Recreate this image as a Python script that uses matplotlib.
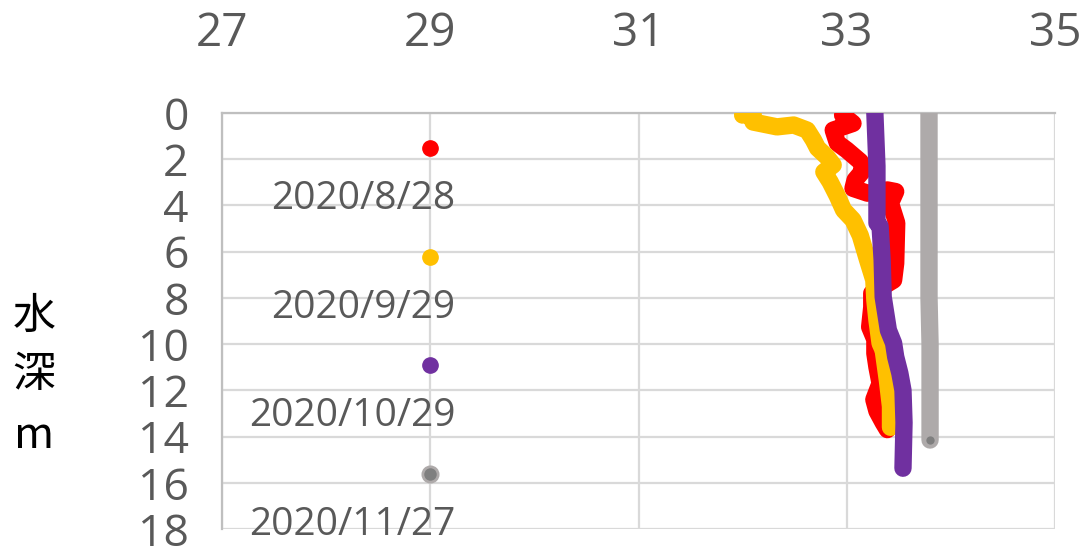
import matplotlib
matplotlib.use("Agg")
import numpy as np
import matplotlib.pyplot as plt

# salinity (x) vs depth (y)
red_sal = [32.96, 33.06, 32.87, 32.91, 33.00, 33.13, 33.16, 33.08, 33.06, 33.20, 33.39, 33.47,
           33.42, 33.48, 33.47, 33.45, 33.24, 33.24, 33.22, 33.27, 33.27, 33.29, 33.32, 33.26,
           33.29, 33.35, 33.39]
red_dep = [0.09, 0.45, 0.74, 1.3, 1.6, 2.1, 2.47, 2.9, 3.26, 3.47, 3.33, 3.4,
           3.9, 4.76, 6.5, 7.23, 7.8, 8.4, 9.26, 9.8, 10.4, 11.0, 11.7, 12.4,
           12.9, 13.4, 13.7]

yel_sal = [32.00, 32.10, 32.10, 32.33, 32.49, 32.62, 32.68, 32.72, 32.81, 32.87, 32.78, 32.84,
           32.91, 32.97, 33.06, 33.13, 33.20, 33.26, 33.27, 33.29, 33.32, 33.35, 33.39, 33.42,
           33.42]
yel_dep = [0.09, 0.0, 0.39, 0.6, 0.52, 0.74, 1.17, 1.52, 1.9, 2.25, 2.55, 2.98,
           3.6, 4.2, 4.63, 5.3, 6.36, 7.23, 8.1, 8.96, 9.96, 10.26, 11.56, 12.7,
           13.6]

pur_sal = [33.27, 33.29, 33.29, 33.32, 33.34, 33.35, 33.40, 33.45, 33.47, 33.51, 33.54, 33.55, 33.54]
pur_dep = [0.0, 2.3, 4.76, 4.9, 6.36, 7.96, 9.4, 9.96, 10.55, 11.26, 12.0, 13.4, 15.37]

gry_sal = [33.79, 33.79, 33.79, 33.79, 33.79, 33.80, 33.80, 33.80]
gry_dep = [0.0, 2.0, 4.0, 6.0, 8.0, 10.0, 12.0, 14.15]

dates = ["2020/8/28", "2020/9/29", "2020/10/29", "2020/11/27"]
key_x = 29
key_dep = [1.52, 6.23, 10.9, 15.6]
colors = ["#FF0000", "#FFC000", "#7030A0", "#AEAAAA"]

xticks = [27, 29, 31, 33, 35]
yticks = [0, 2, 4, 6, 8, 10, 12, 14, 16, 18]

plt.rcParams['font.family'] = ['Open Sans', 'DejaVu Sans']
txt = '#595959'

fig = plt.figure(figsize=(10.89, 5.52), dpi=100)
ax = fig.add_axes([222/1089, 1 - 529/552, (1055-222)/1089, (529-113)/552])

series = [(red_sal, red_dep), (yel_sal, yel_dep), (pur_sal, pur_dep), (gry_sal, gry_dep)]
for (s, d), c in zip(series, colors):
    ax.plot(s, d, color=c, lw=12.5, solid_capstyle='round', solid_joinstyle='round', zorder=3)
# darker last point of the grey profile
ax.plot(gry_sal[-1], gry_dep[-1], 'o', ms=8, mfc='#7F7F7F', mec='#AEAAAA', mew=2, zorder=4)

# hand-made key inside the plot
for i, (lab, d) in enumerate(zip(dates, key_dep)):
    if i == 3:
        ax.plot(key_x, d, 'o', ms=11, mfc='#7F7F7F', mec='#AEAAAA', mew=2, zorder=3)
    else:
        ax.plot(key_x, d, 'o', ms=11, color=colors[i], zorder=3)
    ax.text(29.24, d + 2.22, lab, ha='right', va='center', fontsize=28, color=txt, zorder=2)

ax.set_xlim(27, 35)
ax.set_ylim(18, 0)
ax.set_xticks(xticks)
ax.set_yticks(yticks)
ax.xaxis.tick_top()
ax.tick_params(axis='x', length=0, pad=40, labelsize=33, labelcolor=txt)
ax.tick_params(axis='y', length=0, pad=24, labelsize=32, labelcolor=txt)
ax.grid(True, color='#D9D9D9', lw=1.6, zorder=0)
ax.set_axisbelow(True)
for side in ['right', 'bottom']:
    ax.spines[side].set_visible(False)
for side in ['left', 'top']:
    ax.spines[side].set_color('#BFBFBF')
    ax.spines[side].set_linewidth(1.6)

# vertical axis title, one character per line
for ch, yy in zip(["水", "深", "m"], [329, 387, 448]):
    fig.text(34/1089, 1 - yy/552, ch, ha='center', va='baseline', fontsize=31,
             color='black', family=['Noto Sans CJK JP', 'DejaVu Sans'])

fig.savefig("out.png", dpi=100)
